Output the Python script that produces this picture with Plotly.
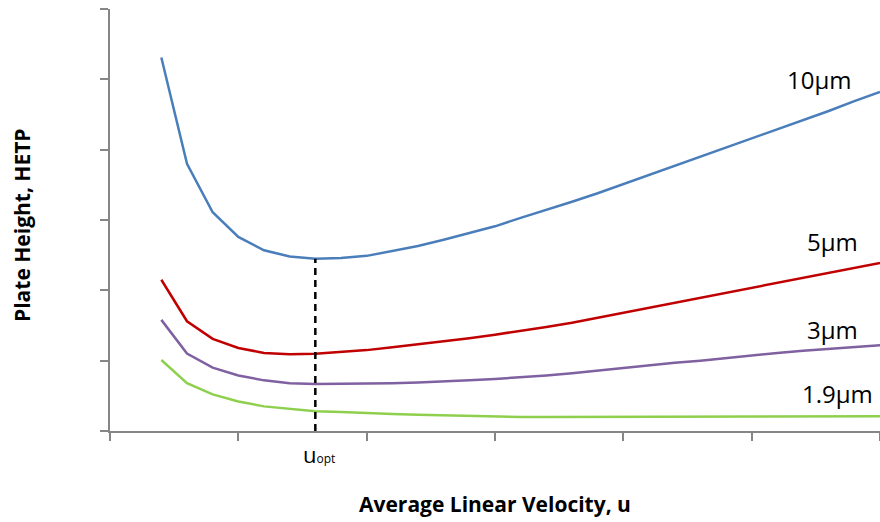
import plotly.graph_objects as go

# Average linear velocity positions (category axis units)
velocity = [0.4, 0.6, 0.8, 1.0, 1.2, 1.4, 1.6, 1.8, 2.0, 2.2, 2.4, 2.6, 2.8, 3.0,
            3.2, 3.4, 3.6, 3.8, 4.0, 4.2, 4.4, 4.6, 4.8, 5.0, 5.2, 5.4, 5.6, 5.8, 6.0]

# Plate height (HETP) curves for each particle size
hetp_10um = [5.31, 3.80, 3.11, 2.76, 2.57, 2.48, 2.45, 2.46, 2.49, 2.56, 2.63, 2.72,
             2.82, 2.91, 3.03, 3.14, 3.26, 3.38, 3.51, 3.64, 3.77, 3.90, 4.02, 4.15,
             4.29, 4.42, 4.55, 4.69, 4.82]
hetp_5um = [2.15, 1.56, 1.31, 1.18, 1.11, 1.09, 1.10, 1.12, 1.15, 1.19, 1.23, 1.27,
            1.32, 1.37, 1.42, 1.48, 1.54, 1.61, 1.68, 1.75, 1.82, 1.89, 1.96, 2.03,
            2.10, 2.18, 2.25, 2.32, 2.39]
hetp_3um = [1.58, 1.10, 0.90, 0.79, 0.72, 0.68, 0.67, 0.67, 0.67, 0.68, 0.69, 0.70,
            0.72, 0.74, 0.76, 0.79, 0.82, 0.86, 0.90, 0.93, 0.97, 1.00, 1.04, 1.07,
            1.11, 1.14, 1.17, 1.19, 1.22]
hetp_1_9um = [1.01, 0.68, 0.52, 0.42, 0.35, 0.31, 0.28, 0.27, 0.25, 0.24, 0.23, 0.22,
              0.21, 0.21, 0.20, 0.20, 0.20, 0.20, 0.20, 0.20, 0.20, 0.20, 0.20, 0.20,
              0.20, 0.21, 0.21, 0.21, 0.21]

series_names = ["10µm", "5µm", "3µm", "1.9µm"]
series_values = [hetp_10um, hetp_5um, hetp_3um, hetp_1_9um]
series_colors = ["#4A7EBB", "#C00000", "#7F60A0", "#8ED04E"]

# Label anchor positions (velocity, HETP) next to each curve's right end
label_x = [5.53, 5.63, 5.63, 5.67]
label_y = [5.00, 2.69, 1.44, 0.54]

u_opt_index = 6  # minimum of the 10 µm curve
u_opt = velocity[u_opt_index]

FONT = "Open Sans"

fig = go.Figure()

for name, vals, col in zip(series_names, series_values, series_colors):
    fig.add_trace(go.Scatter(
        x=velocity, y=vals, mode="lines", name=name,
        line=dict(color=col, width=2.5),
        hoverinfo="skip",
    ))

# Dashed drop line at the optimum velocity
fig.add_trace(go.Scatter(
    x=[u_opt, u_opt], y=[0, hetp_10um[u_opt_index]], mode="lines",
    line=dict(color="black", width=2.5, dash="7px,5px"),
    hoverinfo="skip",
))

for name, lx, ly in zip(series_names, label_x, label_y):
    fig.add_annotation(x=lx, y=ly, text=name, showarrow=False,
                       font=dict(family=FONT, size=24, color="black"),
                       xanchor="center", yanchor="middle")

# u_opt marker label under the axis
fig.add_annotation(x=u_opt, xref="x", y=-0.054, yref="paper",
                   text="u<span style='font-size:12px'>opt</span>", showarrow=False,
                   xshift=4,
                   font=dict(family=FONT, size=22, color="black"),
                   xanchor="center", yanchor="middle")

# Axis titles
fig.add_annotation(x=0.5, y=-0.173, xref="paper", yref="paper",
                   text="<b>Average Linear Velocity, u</b>", showarrow=False,
                   font=dict(family=FONT, size=21, color="black"),
                   xanchor="center", yanchor="middle")
fig.add_annotation(x=-0.1136, y=0.487, xref="paper", yref="paper",
                   text="<b>Plate Height, HETP</b>", showarrow=False, textangle=-90,
                   font=dict(family=FONT, size=21, color="black"),
                   xanchor="center", yanchor="middle")

axis_common = dict(
    showline=True, linecolor="#868686", linewidth=2,
    ticks="outside", ticklen=8, tickwidth=1.5, tickcolor="#868686",
    showticklabels=False, showgrid=False, zeroline=False,
    range=[0, 6], dtick=1, tick0=0,
)

fig.update_layout(
    width=880, height=522,
    margin=dict(l=110, r=0, t=9, b=91),
    paper_bgcolor="white", plot_bgcolor="white",
    showlegend=False,
    font=dict(family=FONT, color="black"),
    xaxis=axis_common,
    yaxis=axis_common,
)

fig.write_html("out.html")
